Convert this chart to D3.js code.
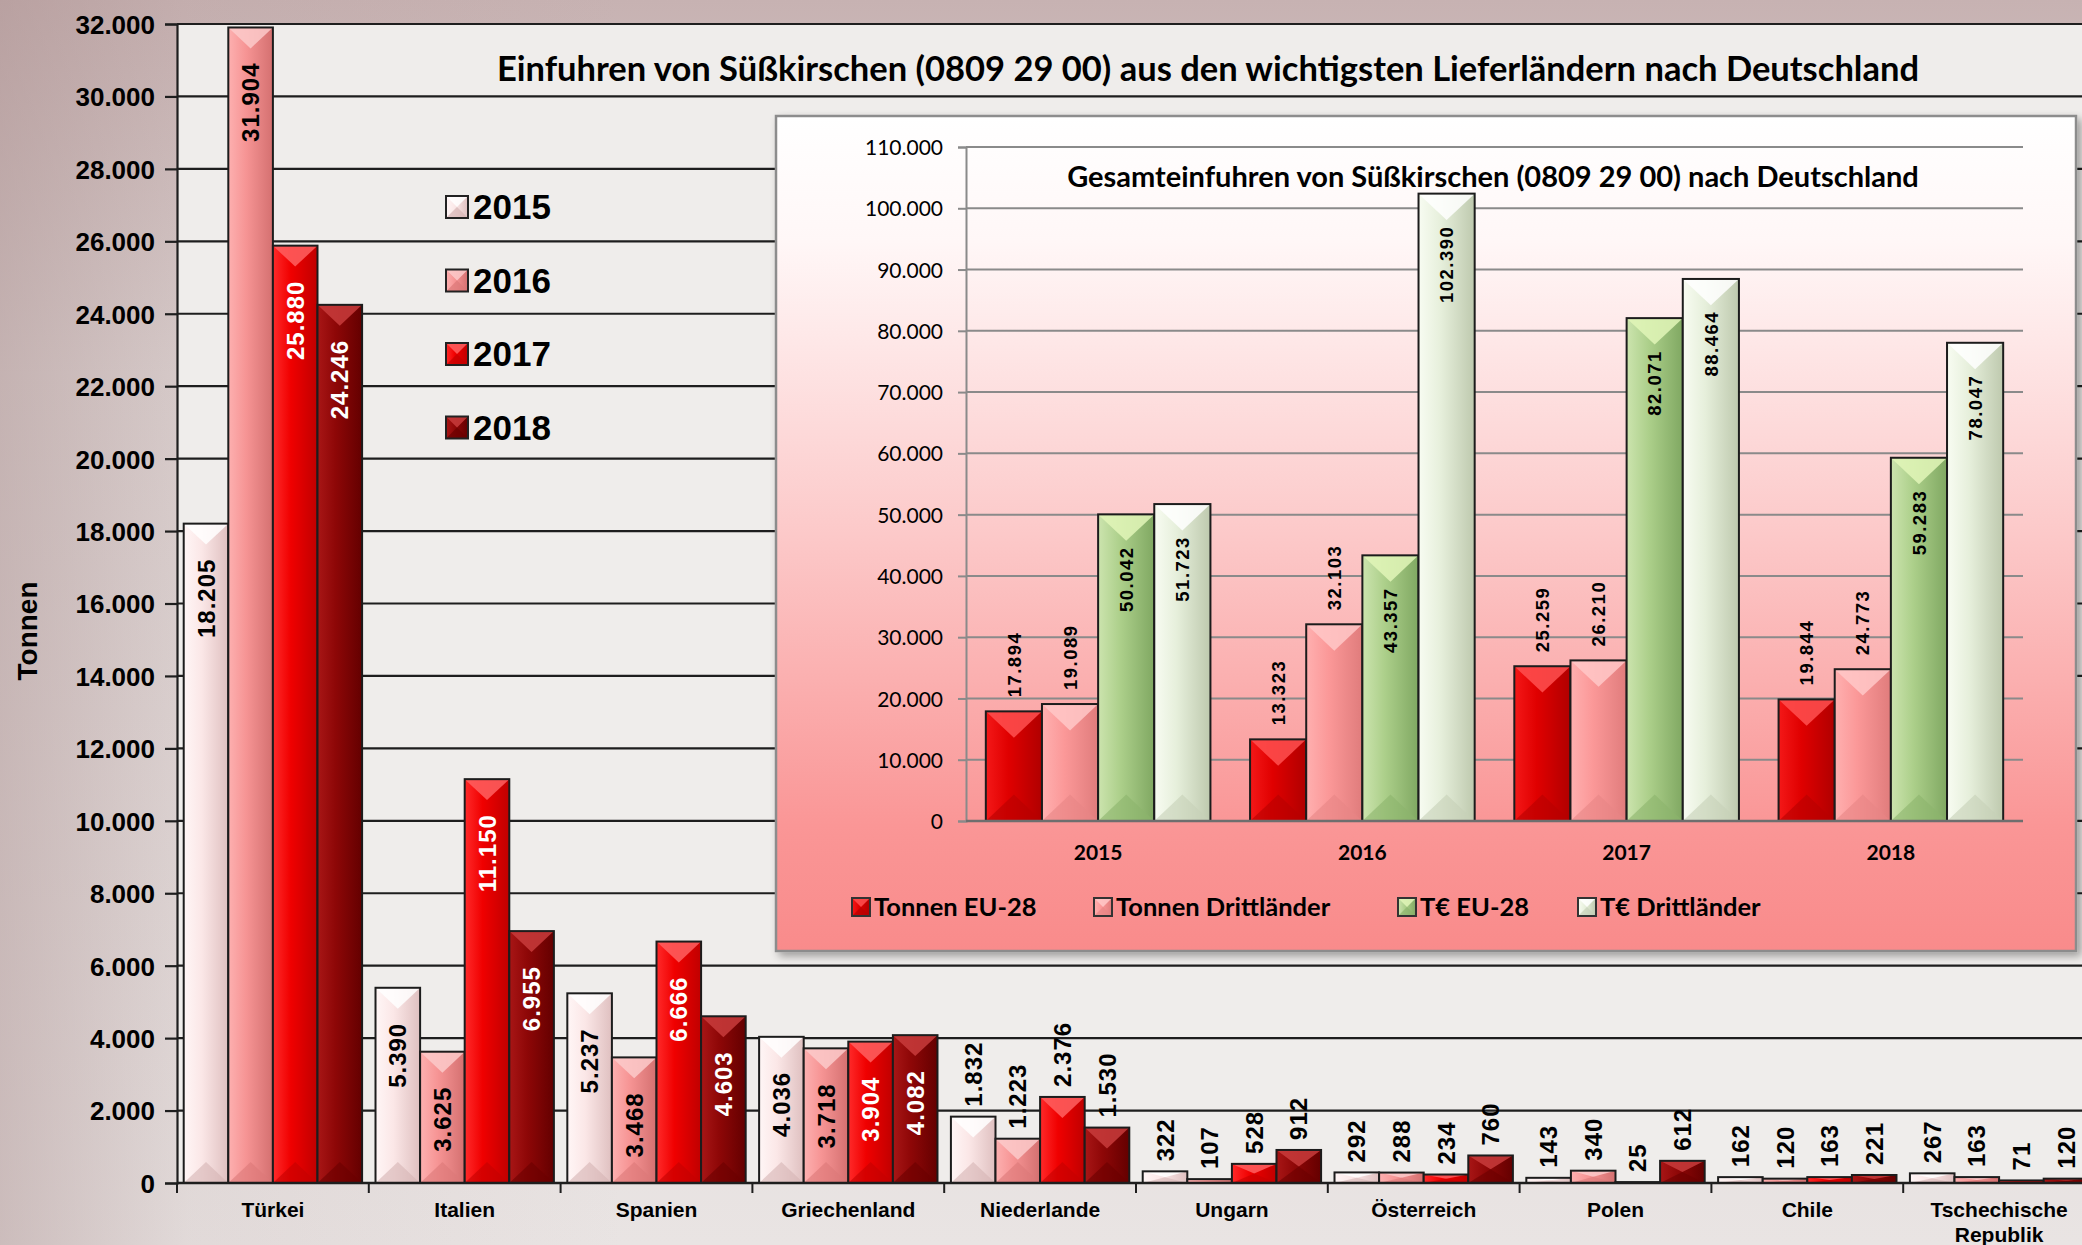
<!DOCTYPE html>
<html>
<head>
<meta charset="utf-8">
<script src="https://cdn.jsdelivr.net/npm/d3@7"></script>
<style>
  body { margin: 0; background: #fff; }
  svg { display: block; }
</style>
</head>
<body>
<div id="chart"></div>
<script>
// main chart: imports per supplier country, tonnes
const countries = ["Türkei", "Italien", "Spanien", "Griechenland", "Niederlande", "Ungarn", "Österreich", "Polen", "Chile", "Tschechische Republik"];
const years = ["2015", "2016", "2017", "2018"];
const v2015 = [18205, 5390, 5237, 4036, 1832, 322, 292, 143, 162, 267];
const v2016 = [31904, 3625, 3468, 3718, 1223, 107, 288, 340, 120, 163];
const v2017 = [25880, 11150, 6666, 3904, 2376, 528, 234, 25, 163, 71];
const v2018 = [24246, 6955, 4603, 4082, 1530, 912, 760, 612, 221, 120];
const mainTicks = [0, 2000, 4000, 6000, 8000, 10000, 12000, 14000, 16000, 18000, 20000, 22000, 24000, 26000, 28000, 30000, 32000];

// inset: total imports
const insetYears = ["2015", "2016", "2017", "2018"];
const insetSeries = ["Tonnen EU-28", "Tonnen Drittländer", "T€ EU-28", "T€ Drittländer"];
const tonnenEU = [17894, 13323, 25259, 19844];
const tonnenDritt = [19089, 32103, 26210, 24773];
const teurEU = [50042, 43357, 82071, 59283];
const teurDritt = [51723, 102390, 88464, 78047];
const insetTicks = [0, 10000, 20000, 30000, 40000, 50000, 60000, 70000, 80000, 90000, 100000, 110000];

const W = 2082, H = 1245;
const de = d3.formatLocale({decimal: ",", thousands: ".", grouping: [3], currency: ["", " €"]});
const fmt = de.format(",d");

const svg = d3.select("#chart").append("svg").attr("width", W).attr("height", H);
const defs = svg.append("defs");

function hGrad(id, c) {
  const g = defs.append("linearGradient").attr("id", id)
    .attr("x1", 0).attr("x2", 1).attr("y1", 0).attr("y2", 0);
  g.append("stop").attr("offset", "0%").attr("stop-color", c[0]);
  g.append("stop").attr("offset", "40%").attr("stop-color", c[1]);
  g.append("stop").attr("offset", "100%").attr("stop-color", c[2]);
}
function vGrad(id, stops) {
  const g = defs.append("linearGradient").attr("id", id)
    .attr("x1", 0).attr("x2", 0).attr("y1", 0).attr("y2", 1);
  stops.forEach(s => g.append("stop").attr("offset", s[0]).attr("stop-color", s[1]));
}

// bar looks
const mainStyle = {
  "2015": {id: "g15", grad: ["#fff6f6", "#fbe7e7", "#dfc0c0"], top: "#ffffff", bot: "#d6b4b4", label: "#000"},
  "2016": {id: "g16", grad: ["#fdb0b0", "#f69494", "#d47070"], top: "#fccaca", bot: "#dc7878", label: "#000"},
  "2017": {id: "g17", grad: ["#ff2a2a", "#f00000", "#c00000"], top: "#ff6060", bot: "#c40000", label: "#fff"},
  "2018": {id: "g18", grad: ["#a81616", "#8e0707", "#640000"], top: "#c83c3c", bot: "#6a0000", label: "#fff"}
};
const insetStyle = {
  "Tonnen EU-28": {id: "gi1", grad: ["#f41818", "#e00000", "#b00000"], top: "#ff5050", bot: "#b80000"},
  "Tonnen Drittländer": {id: "gi2", grad: ["#ffb0b0", "#fb9898", "#e07c7c"], top: "#ffc8c8", bot: "#e88686"},
  "T€ EU-28": {id: "gi3", grad: ["#cce4ae", "#accf8a", "#80a862"], top: "#e2f6b8", bot: "#8cb46c"},
  "T€ Drittländer": {id: "gi4", grad: ["#f8fcf2", "#e6efdb", "#bec9ae"], top: "#ffffff", bot: "#c6d0b8"}
};
Object.values(mainStyle).forEach(s => hGrad(s.id, s.grad));
Object.values(insetStyle).forEach(s => hGrad(s.id, s.grad));

vGrad("bgGrad", [["0%", "#c7b2b2"], ["30%", "#dcd2d1"], ["100%", "#e9e4e3"]]);
vGrad("insetGrad", [["0%", "#ffffff"], ["15%", "#fff7f7"], ["50%", "#fcc9c9"], ["85%", "#fa9696"], ["100%", "#f98b8b"]]);
const bgH = defs.append("linearGradient").attr("id", "bgLeft").attr("x1", 0).attr("x2", 1).attr("y1", 0).attr("y2", 0);
bgH.append("stop").attr("offset", "0%").attr("stop-color", "#a88c8c").attr("stop-opacity", 0.45);
bgH.append("stop").attr("offset", "9%").attr("stop-color", "#a88c8c").attr("stop-opacity", 0.12);
bgH.append("stop").attr("offset", "30%").attr("stop-color", "#a88c8c").attr("stop-opacity", 0);

const shadow = defs.append("filter").attr("id", "shadow").attr("x", "-5%").attr("y", "-5%").attr("width", "110%").attr("height", "110%");
shadow.append("feGaussianBlur").attr("in", "SourceAlpha").attr("stdDeviation", 4);
shadow.append("feOffset").attr("dx", 4).attr("dy", 4).attr("result", "b");
shadow.append("feComponentTransfer").append("feFuncA").attr("type", "linear").attr("slope", 0.35);
const mrg = shadow.append("feMerge");
mrg.append("feMergeNode");
mrg.append("feMergeNode").attr("in", "SourceGraphic");

// background (photo-like) and plot area
svg.append("rect").attr("width", W).attr("height", H).attr("fill", "url(#bgGrad)");
svg.append("rect").attr("width", W).attr("height", H).attr("fill", "url(#bgLeft)");

const mLeft = 177, mTop = 24, mBottom = 1183;
svg.append("rect").attr("x", mLeft).attr("y", mTop).attr("width", W - mLeft).attr("height", mBottom - mTop)
  .attr("fill", "#efedeb");

// draws bevelled bars; rows: {g, s, v}
function drawBars(g, rows, xPos, bw, y, y0, style) {
  const bar = g.selectAll("g.bar").data(rows).join("g").attr("class", "bar");
  bar.append("rect")
    .attr("x", d => xPos(d)).attr("width", bw)
    .attr("y", d => y(d.v)).attr("height", d => y0 - y(d.v))
    .attr("fill", d => `url(#${style[d.s].id})`);
  bar.filter(d => y0 - y(d.v) > 4).append("path")
    .attr("d", d => {
      const x = xPos(d), t = y(d.v), dd = Math.min(bw * 0.47, (y0 - t) / 2);
      return `M${x},${t}L${x + bw},${t}L${x + bw / 2},${t + dd}Z`;
    })
    .attr("fill", d => style[d.s].top).attr("opacity", 0.85);
  bar.filter(d => y0 - y(d.v) > 4).append("path")
    .attr("d", d => {
      const x = xPos(d), t = y(d.v), dd = Math.min(bw * 0.47, (y0 - t) / 2);
      return `M${x},${y0}L${x + bw},${y0}L${x + bw / 2},${y0 - dd}Z`;
    })
    .attr("fill", d => style[d.s].bot).attr("opacity", 0.6);
  bar.append("rect")
    .attr("x", d => xPos(d)).attr("width", bw)
    .attr("y", d => y(d.v)).attr("height", d => y0 - y(d.v))
    .attr("fill", "none").attr("stroke", "#1c1c1c").attr("stroke-width", 2);
  return bar;
}

// ---------- main chart ----------
const y = d3.scaleLinear().domain([0, 32000]).range([mBottom, mTop]);
const x0 = d3.scaleBand().domain(countries).range([mLeft, mLeft + 10 * 191.8])
  .paddingInner(0.07).paddingOuter(0.035);
const x1 = d3.scaleBand().domain(years).range([0, x0.bandwidth()]);
const mainVals = [v2015, v2016, v2017, v2018];

svg.append("g").selectAll("line").data(mainTicks.slice(1)).join("line")
  .attr("x1", mLeft).attr("x2", W).attr("y1", d => y(d)).attr("y2", d => y(d))
  .attr("stroke", "#1e1e1e").attr("stroke-width", 2.2);

const yAxis = svg.append("g").attr("transform", `translate(${mLeft},0)`)
  .call(d3.axisLeft(y).tickValues(mainTicks).tickFormat(fmt).tickSize(12).tickPadding(10));
yAxis.select(".domain").attr("stroke", "#1e1e1e").attr("stroke-width", 2.2);
yAxis.selectAll(".tick line").attr("stroke", "#1e1e1e").attr("stroke-width", 2.2);
yAxis.selectAll("text").attr("font-family", "Liberation Sans, Arial, sans-serif")
  .attr("font-weight", "bold").attr("font-size", 26).attr("fill", "#000").attr("dy", "0.36em");

svg.append("text").attr("transform", "translate(37,631) rotate(-90)")
  .attr("text-anchor", "middle").attr("font-family", "Liberation Sans, Arial, sans-serif")
  .attr("font-weight", "bold").attr("font-size", 28).text("Tonnen");

const mainRows = [];
countries.forEach((c, i) => years.forEach((s, j) => mainRows.push({g: c, s: s, v: mainVals[j][i]})));
const mainG = svg.append("g");
drawBars(mainG, mainRows, d => x0(d.g) + x1(d.s), x1.bandwidth(), y, mBottom, mainStyle);

// x axis
svg.append("line").attr("x1", mLeft).attr("x2", W).attr("y1", mBottom).attr("y2", mBottom)
  .attr("stroke", "#1e1e1e").attr("stroke-width", 2.5);
const gap = (x0.step() - x0.bandwidth()) / 2;
svg.append("g").selectAll("line").data(countries).join("line")
  .attr("x1", d => x0(d) - gap).attr("x2", d => x0(d) - gap)
  .attr("y1", mBottom).attr("y2", mBottom + 10)
  .attr("stroke", "#1e1e1e").attr("stroke-width", 2);

const catText = svg.append("g").selectAll("text").data(countries).join("text")
  .attr("x", d => x0(d) + x0.bandwidth() / 2).attr("y", 1217)
  .attr("text-anchor", "middle").attr("font-family", "Liberation Sans, Arial, sans-serif")
  .attr("font-weight", "bold").attr("font-size", 21);
catText.each(function(d) {
  const lines = d.length > 14 ? d.split(" ") : [d];
  d3.select(this).selectAll("tspan").data(lines).join("tspan")
    .attr("x", x0(d) + x0.bandwidth() / 2).attr("dy", (l, k) => k ? 25 : 0).text(l => l);
});

// value labels
mainG.selectAll("g.bar").append("text")
  .attr("transform", d => {
    const cx = x0(d.g) + x1(d.s) + x1.bandwidth() / 2;
    const inside = mBottom - y(d.v) > 100;
    return `translate(${cx},${inside ? y(d.v) + 35 : y(d.v) - 10}) rotate(-90)`;
  })
  .attr("text-anchor", d => mBottom - y(d.v) > 100 ? "end" : "start")
  .attr("dy", "0.36em")
  .attr("font-family", "Liberation Sans, Arial, sans-serif").attr("font-weight", "bold")
  .attr("font-size", 24).attr("letter-spacing", 1)
  .attr("fill", d => mBottom - y(d.v) > 100 ? mainStyle[d.s].label : "#000")
  .text(d => fmt(d.v));

// legend
const leg = svg.append("g").selectAll("g").data(years).join("g")
  .attr("transform", (d, i) => `translate(446,${207 + i * 73.5})`);
leg.append("rect").attr("x", 0).attr("y", -11).attr("width", 22).attr("height", 22)
  .attr("fill", d => `url(#${mainStyle[d].id})`);
leg.append("path").attr("d", "M0,-11L22,-11L11,0Z").attr("fill", d => mainStyle[d].top).attr("opacity", 0.85);
leg.append("path").attr("d", "M0,11L22,11L11,0Z").attr("fill", d => mainStyle[d].bot).attr("opacity", 0.7);
leg.append("rect").attr("x", 0).attr("y", -11).attr("width", 22).attr("height", 22)
  .attr("fill", "none").attr("stroke", "#222").attr("stroke-width", 2);
leg.append("text").attr("x", 27).attr("y", 12)
  .attr("font-family", "Liberation Sans, Arial, sans-serif").attr("font-weight", "bold")
  .attr("font-size", 35).text(d => d);

svg.append("text").attr("x", 1208).attr("y", 81).attr("text-anchor", "middle")
  .attr("font-family", "Lato, sans-serif").attr("font-weight", "bold").attr("font-size", 34.5)
  .text("Einfuhren von Süßkirschen (0809 29 00) aus den wichtigsten Lieferländern nach Deutschland");

// ---------- inset chart ----------
const inset = svg.append("g");
inset.append("rect").attr("x", 776).attr("y", 116).attr("width", 1300).attr("height", 835)
  .attr("fill", "url(#insetGrad)").attr("stroke", "#8c8c8c").attr("stroke-width", 2.5)
  .attr("filter", "url(#shadow)");

const iLeft = 966, iRight = 2023, iBottom = 821, iTop = 147;
const yi = d3.scaleLinear().domain([0, 110000]).range([iBottom, iTop]);
const xi0 = d3.scaleBand().domain(insetYears).range([iLeft, iRight]).paddingInner(0.15).paddingOuter(0.075);
const xi1 = d3.scaleBand().domain(insetSeries).range([0, xi0.bandwidth()]);
const insetVals = [tonnenEU, tonnenDritt, teurEU, teurDritt];

inset.append("g").selectAll("line").data(insetTicks.slice(1)).join("line")
  .attr("x1", iLeft).attr("x2", iRight).attr("y1", d => yi(d)).attr("y2", d => yi(d))
  .attr("stroke", "#8a8a8a").attr("stroke-width", 2);

const yiAxis = inset.append("g").attr("transform", `translate(${iLeft},0)`)
  .call(d3.axisLeft(yi).tickValues(insetTicks).tickFormat(fmt).tickSize(8).tickPadding(15));
yiAxis.select(".domain").attr("stroke", "#8a8a8a").attr("stroke-width", 2);
yiAxis.selectAll(".tick line").attr("stroke", "#8a8a8a").attr("stroke-width", 2);
yiAxis.selectAll("text").attr("font-family", "Lato, sans-serif").attr("font-size", 21)
  .attr("fill", "#000").attr("dy", "0.36em");

inset.append("text").attr("x", 1493).attr("y", 187).attr("text-anchor", "middle")
  .attr("font-family", "Lato, sans-serif").attr("font-weight", "bold").attr("font-size", 29)
  .text("Gesamteinfuhren von Süßkirschen (0809 29 00) nach Deutschland");

const insetRows = [];
insetYears.forEach((c, i) => insetSeries.forEach((s, j) => insetRows.push({g: c, s: s, v: insetVals[j][i]})));
const insetG = inset.append("g");
drawBars(insetG, insetRows, d => xi0(d.g) + xi1(d.s), xi1.bandwidth(), yi, iBottom, insetStyle);

inset.append("line").attr("x1", iLeft).attr("x2", iRight).attr("y1", iBottom).attr("y2", iBottom)
  .attr("stroke", "#6e6e6e").attr("stroke-width", 2.5);

insetG.selectAll("g.bar").append("text")
  .attr("transform", d => {
    const cx = xi0(d.g) + xi1(d.s) + xi1.bandwidth() / 2;
    const inside = insetSeries.indexOf(d.s) >= 2;
    return `translate(${cx},${inside ? yi(d.v) + 32 : yi(d.v) - 14}) rotate(-90)`;
  })
  .attr("text-anchor", d => insetSeries.indexOf(d.s) >= 2 ? "end" : "start")
  .attr("dy", "0.36em")
  .attr("font-family", "Liberation Sans, Arial, sans-serif").attr("font-weight", "bold")
  .attr("font-size", 18.5).attr("letter-spacing", 1.5).attr("fill", "#000")
  .text(d => fmt(d.v));

inset.append("g").selectAll("text").data(insetYears).join("text")
  .attr("x", d => xi0(d) + xi0.bandwidth() / 2).attr("y", 860).attr("text-anchor", "middle")
  .attr("font-family", "Lato, sans-serif").attr("font-weight", "bold").attr("font-size", 21)
  .text(d => d);

const legX = [852, 1094, 1398, 1578];
const ileg = inset.append("g").selectAll("g").data(insetSeries).join("g")
  .attr("transform", (d, i) => `translate(${legX[i]},907)`);
ileg.append("rect").attr("x", 0).attr("y", -9).attr("width", 18).attr("height", 18)
  .attr("fill", d => `url(#${insetStyle[d].id})`);
ileg.append("path").attr("d", "M0,-9L18,-9L9,0Z").attr("fill", d => insetStyle[d].top).attr("opacity", 0.85);
ileg.append("path").attr("d", "M0,9L18,9L9,0Z").attr("fill", d => insetStyle[d].bot).attr("opacity", 0.7);
ileg.append("rect").attr("x", 0).attr("y", -9).attr("width", 18).attr("height", 18)
  .attr("fill", "none").attr("stroke", "#333").attr("stroke-width", 2);
ileg.append("text").attr("x", 22).attr("y", 9)
  .attr("font-family", "Lato, sans-serif").attr("font-weight", "bold").attr("font-size", 25.5)
  .text(d => d);
</script>
</body>
</html>
